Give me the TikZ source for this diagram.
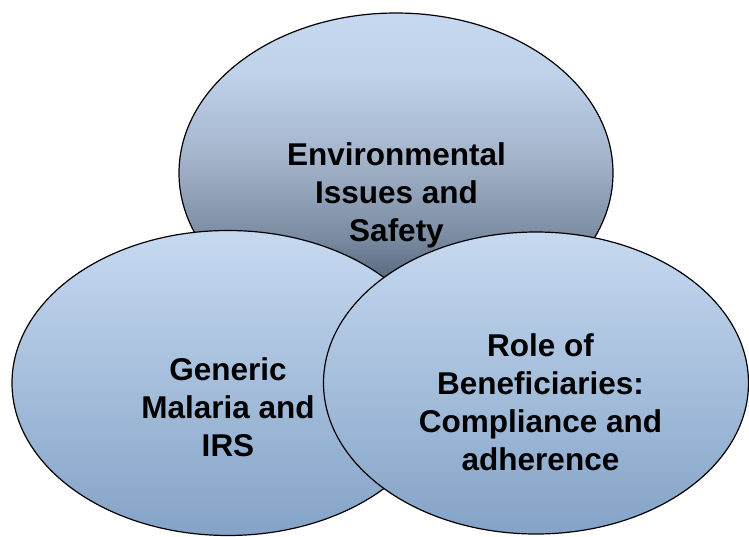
\documentclass[tikz,border=0pt]{standalone}
\usepackage{fontspec}
\setmainfont{Liberation Sans}
\usetikzlibrary{shapes.geometric}
\definecolor{lightb}{RGB}{198,217,240}
\definecolor{sbot}{RGB}{132,163,199}
\definecolor{t20}{RGB}{190,209,233}
\definecolor{t45}{RGB}{163,180,203}
\definecolor{t70}{RGB}{122,139,162}
\definecolor{t82}{RGB}{93,108,130}
\definecolor{t100}{RGB}{62,74,92}
\pgfdeclareverticalshading{topshade}{100bp}{color(0bp)=(t100); color(25bp)=(t100); color(34bp)=(t82); color(40bp)=(t70); color(52.5bp)=(t45); color(65bp)=(t20); color(75bp)=(lightb); color(100bp)=(lightb)}
\pgfdeclareverticalshading{sideshade}{100bp}{color(0bp)=(sbot); color(25bp)=(sbot); color(75bp)=(lightb); color(100bp)=(lightb)}
\tikzset{
  venn/.style={ellipse, draw=black, line width=1.2pt, inner sep=0pt},
  lbl/.style={font=\bfseries\fontsize{31.5}{38}\selectfont, align=center, anchor=base, inner sep=0pt}
}
\begin{document}
\begin{tikzpicture}[x=1pt,y=-1pt]
\useasboundingbox (0,0) rectangle (749,537);
\node[venn, shading=topshade, minimum width=434pt, minimum height=320pt] (top) at (396,173) {};
\node[venn, shading=sideshade, minimum width=432pt, minimum height=305pt] (left) at (228,383) {};
\node[venn, shading=sideshade, minimum width=425pt, minimum height=302pt] (right) at (536,383) {};
\node[lbl] (ttop) at (396.5,242) {Environmental\\Issues and\\Safety};
\node[lbl] (tleft) at (228,456) {Generic\\Malaria and\\IRS};
\node[lbl] (tright) at (540.5,470) {Role of\\Beneficiaries:\\Compliance and\\adherence};
\end{tikzpicture}
\end{document}
